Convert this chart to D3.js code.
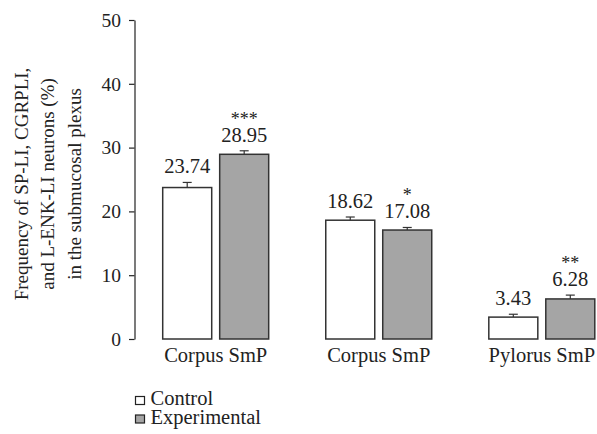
<!DOCTYPE html>
<html><head><meta charset="utf-8">
<script src="https://cdn.jsdelivr.net/npm/d3@7"></script>
<style>body{margin:0;background:#fff}svg{display:block}text{font-family:"Liberation Serif","DejaVu Serif",serif;fill:#222}</style>
</head><body><svg id="c" width="597" height="434"></svg>
<script>
const categories = ["Corpus SmP", "Corpus SmP ", "Pylorus SmP"];
const seriesNames = ["Control", "Experimental"];
const controlValues = [23.74, 18.62, 3.43];
const experimentalValues = [28.95, 17.08, 6.28];
const controlErrors = [0.8, 0.5, 0.45];
const experimentalErrors = [0.55, 0.4, 0.6];
const significance = ["***", "*", "**"];
const yTicks = [0, 10, 20, 30, 40, 50];
const yLabelLines = ["Frequency of SP-LI, CGRPLI,", "and L-ENK-LI neurons (%)", "in the submucosal plexus"];

const FONT = '"Liberation Serif","DejaVu Serif",serif';
const svg = d3.select("#c");
const axisX = 134.5, y0 = 339, y1 = 20;
const y = d3.scaleLinear().domain([0, 50]).range([y0, y1]);
const x = d3.scaleBand().domain(categories).range([axisX, 623]).paddingInner(0.35).paddingOuter(0.173);
const xs = d3.scaleBand().domain(seriesNames).range([0, x.bandwidth()]).paddingInner(0.14);
const fills = {Control: "#ffffff", Experimental: "#a5a5a5"};
const vals = {Control: controlValues, Experimental: experimentalValues};
const errs = {Control: controlErrors, Experimental: experimentalErrors};

// y axis
const yAxis = d3.axisLeft(y).tickValues(yTicks).tickSize(5.5).tickSizeOuter(0).tickPadding(8);
const ga = svg.append("g").attr("transform", `translate(${axisX},0)`).call(yAxis)
  .attr("font-family", FONT).attr("font-size", 19.5);
ga.select(".domain").attr("stroke", "#222").attr("stroke-width", 1.2);
ga.selectAll(".tick line").attr("stroke", "#222").attr("stroke-width", 1.2);
ga.selectAll(".tick text").attr("fill", "#222").style("font-family", FONT).style("font-size", "19.5px");

// y label
const yl = svg.append("text").attr("transform", "translate(0,184) rotate(-90)").attr("text-anchor", "middle").style("font-size", "19px");
yLabelLines.forEach((t, i) => yl.append("tspan").attr("x", 0).attr("y", 28 + i * 26.3).text(t));

// bars
categories.forEach((c, ci) => {
  seriesNames.forEach(s => {
    const v = vals[s][ci], e = errs[s][ci];
    const bx = x(c) + xs(s), bw = xs.bandwidth(), cx = bx + bw / 2;
    svg.append("rect").attr("x", bx).attr("y", y(v)).attr("width", bw).attr("height", y(0) - y(v))
      .attr("fill", fills[s]).attr("stroke", "#333").attr("stroke-width", 1.5);
    svg.append("line").attr("x1", cx).attr("x2", cx).attr("y1", y(v)).attr("y2", y(v + e)).attr("stroke", "#333").attr("stroke-width", 1.2);
    svg.append("line").attr("x1", cx - 4.5).attr("x2", cx + 4.5).attr("y1", y(v + e)).attr("y2", y(v + e)).attr("stroke", "#333").attr("stroke-width", 1.2);
    const lb = y(v + e) - 9;
    svg.append("text").attr("x", cx).attr("y", lb).attr("text-anchor", "middle").style("font-size", "20.5px").text(v.toFixed(2));
    if (s === "Experimental") {
      svg.append("text").attr("x", cx).attr("y", lb - 17).attr("text-anchor", "middle").style("font-size", "18px").attr("fill", "#555").text(significance[ci]);
    }
  });
  svg.append("text").attr("x", x(c) + x.bandwidth() / 2).attr("y", 362).attr("text-anchor", "middle").style("font-size", "20.5px").text(c.trim());
});

// legend
seriesNames.forEach((s, i) => {
  const ly = 405 + i * 18.5;
  svg.append("rect").attr("x", 135.5).attr("y", ly - 8.5).attr("width", 9).attr("height", 8).attr("fill", fills[s]).attr("stroke", "#222").attr("stroke-width", 1.2);
  svg.append("text").attr("x", 150.5).attr("y", ly).style("font-size", "20.5px").text(s);
});
</script></body></html>
